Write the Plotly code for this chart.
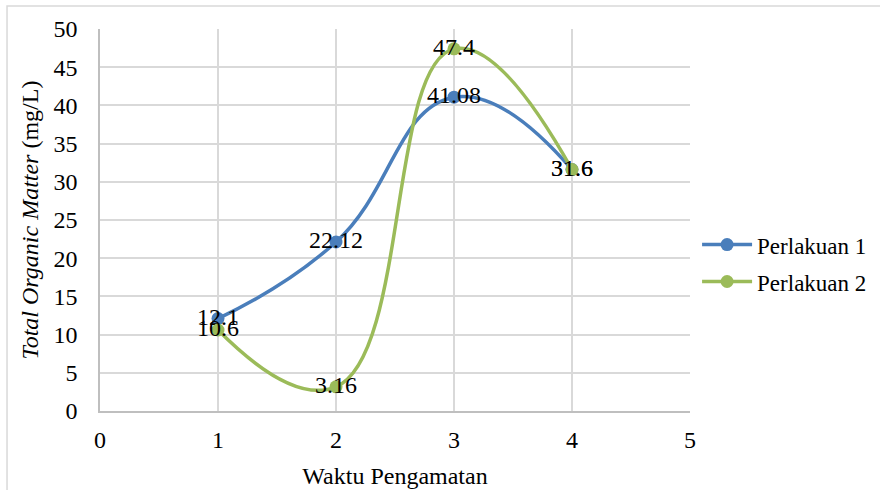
import plotly.graph_objects as go

# Observation times and total organic matter readings
waktu = [1, 2, 3, 4]
perlakuan_1 = [12.1, 22.12, 41.08, 31.6]
perlakuan_2 = [10.6, 3.16, 47.4, 31.6]
label_1 = ["12.1", "22.12", "41.08", "31.6"]
label_2 = ["10.6", "3.16", "47.4", "31.6"]

BLUE = "#4a7ebb"
GREEN = "#9bbb59"
FONT = "Liberation Serif"
GRID = "#d9d9d9"


def serif(size=24):
    return dict(family=FONT, size=size, color="black")


fig = go.Figure()
for name, ys, labels, color in [
    ("Perlakuan 1", perlakuan_1, label_1, BLUE),
    ("Perlakuan 2", perlakuan_2, label_2, GREEN),
]:
    fig.add_trace(go.Scatter(
        x=waktu, y=ys, name=name, legendgroup=name,
        mode="lines+markers+text",
        text=labels, textposition="middle center",
        textfont=serif(),
        line=dict(color=color, width=3.5, shape="spline", smoothing=1.3),
        marker=dict(color=color, size=13),
        cliponaxis=False,
    ))

fig.update_layout(
    template="none",
    width=880, height=490,
    margin=dict(l=100, r=190, t=29, b=79, autoexpand=False),
    paper_bgcolor="white", plot_bgcolor="white",
    font=serif(),
    showlegend=True,
    legend=dict(x=1.012, y=0.387, xanchor="left", yanchor="middle",
                font=serif(23), traceorder="grouped", tracegroupgap=4,
                bgcolor="rgba(0,0,0,0)", itemwidth=50),
    xaxis=dict(range=[0, 5], dtick=1, showgrid=True, gridcolor=GRID, gridwidth=1.5,
               zeroline=False, showline=True, linecolor="#bfbfbf", linewidth=1.5,
               ticks="", ticklabelstandoff=6, automargin=False, tickfont=serif(),
               title=dict(text="Waktu Pengamatan", standoff=16, font=serif())),
    yaxis=dict(range=[0, 50], dtick=5, showgrid=True, gridcolor=GRID, gridwidth=1.5,
               zeroline=False, showline=True, linecolor="#bfbfbf", linewidth=1.5,
               ticks="", ticklabelstandoff=16, automargin=False, tickfont=serif(),
               title=dict(text="<i>Total Organic Matter</i> (mg/L)", standoff=8,
                          font=serif())),
    shapes=[dict(type="rect", xref="paper", yref="paper",
                 x0=-0.1576, x1=2, y0=-1, y1=1.0602,
                 line=dict(color=GRID, width=1.5), layer="below")],
)

fig.write_html("out.html")
